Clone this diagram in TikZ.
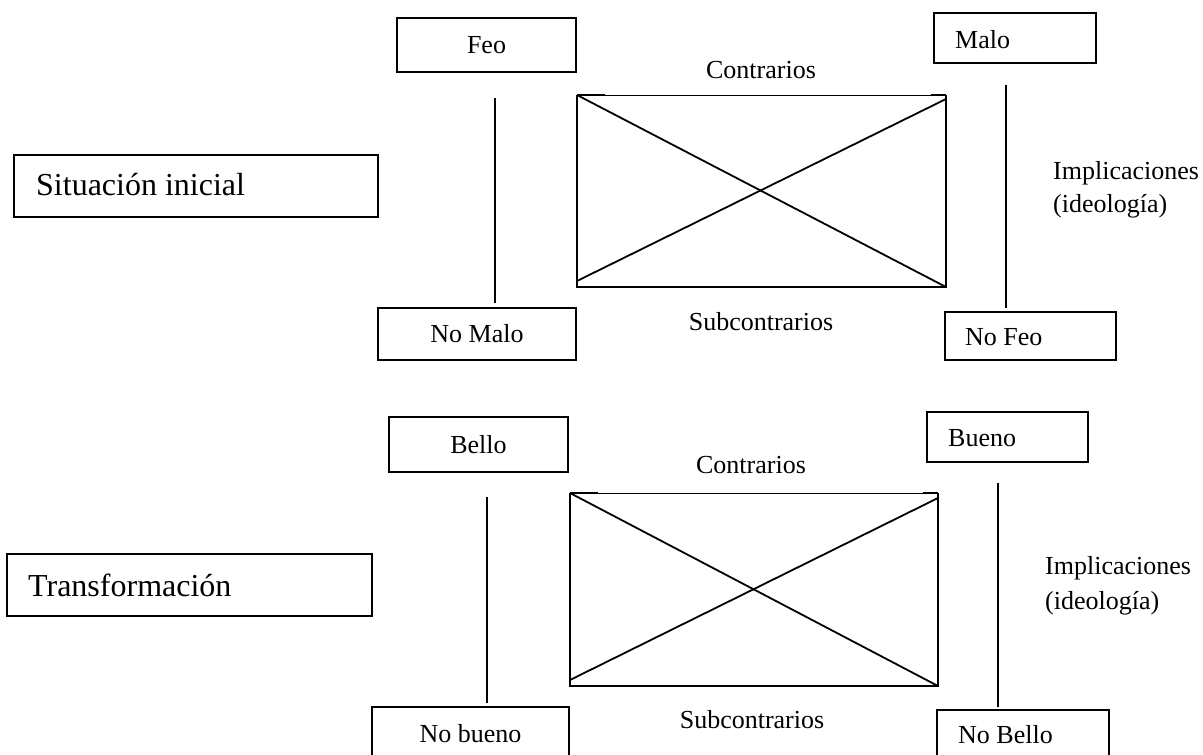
\documentclass[tikz,border=0pt]{standalone}
\usepackage{fontspec}
\setmainfont{Liberation Serif}
\begin{document}
\begin{tikzpicture}[x=1pt,y=-1pt,
  box/.style={draw,line width=2pt,inner sep=0pt,font=\fontsize{26}{30}\selectfont},
  bigbox/.style={draw,line width=2pt,inner sep=0pt},
  lbl/.style={inner sep=0pt,font=\fontsize{26}{30}\selectfont},
  biglbl/.style={inner sep=0pt,font=\fontsize{32}{36}\selectfont},
  edge/.style={line width=2pt},
  diag/.style={line width=1.8pt},
  thin/.style={line width=1pt}]
\clip (0,0) rectangle (1203,755);
\fill[white] (0,0) rectangle (1203,755);

% ---------- top square ----------
\node[box,minimum width=179pt,minimum height=54pt] (feo) at (486.5,45) {Feo};
\node[box,minimum width=162pt,minimum height=50pt] (malo) at (1015,38) {};
\node[lbl,anchor=west] (malot) at (955,40) {Malo};
\node[bigbox,minimum width=364pt,minimum height=62pt] (sit) at (196,186) {};
\node[biglbl,anchor=west] (sitt) at (36,185) {Situación inicial};
\node[box,minimum width=198pt,minimum height=52pt] (nomalo) at (477,334) {No Malo};
\node[box,minimum width=171pt,minimum height=48pt] (nofeo) at (1030.5,336) {};
\node[lbl,anchor=west] (nofeot) at (965,337) {No Feo};

\node[lbl] (contr1) at (761,70) {Contrarios};
\node[lbl] (sub1) at (761,322) {Subcontrarios};
\node[lbl,anchor=west] (impl1) at (1053,173) {Implicaciones};
\node[lbl,anchor=west] (ideo1) at (1053,206) {(ideología)};

\coordinate (r1tl) at (577,95);
\coordinate (r1br) at (946,287);
\draw[edge] (577,95) -- (577,287) -- (946,287) -- (946,95);
\draw[thin] (577,95) -- (946,95);
\draw[edge] (577,95) -- (605,95);
\draw[edge] (931,95) -- (946,95);
\draw[diag] (r1tl) -- (r1br);
\draw[diag] (577,281) -- (946,99);

\coordinate (l1a) at (495,98);
\coordinate (l1b) at (495,303);
\draw[edge] (l1a) -- (l1b);
\coordinate (r1a) at (1006,85);
\coordinate (r1b) at (1006,308);
\draw[edge] (r1a) -- (r1b);

% ---------- bottom square ----------
\node[box,minimum width=179pt,minimum height=55pt] (bello) at (478.5,444.5) {Bello};
\node[box,minimum width=161pt,minimum height=50pt] (bueno) at (1007.5,437) {};
\node[lbl,anchor=west] (buenot) at (948,438) {Bueno};
\node[bigbox,minimum width=365pt,minimum height=62pt] (trans) at (189.5,585) {};
\node[biglbl,anchor=west] (transt) at (28,585) {Transformación};
\node[box,minimum width=197pt,minimum height=53pt] (nobueno) at (470.5,733.5) {No bueno};
\node[box,minimum width=172pt,minimum height=50pt] (nobello) at (1023,735) {};
\node[lbl,anchor=west] (nobellot) at (958,735) {No Bello};

\node[lbl] (contr2) at (751,465) {Contrarios};
\node[lbl] (sub2) at (752,720) {Subcontrarios};
\node[lbl,anchor=west] (impl2) at (1045,568) {Implicaciones};
\node[lbl,anchor=west] (ideo2) at (1045,603) {(ideología)};

\coordinate (r2tl) at (570,493);
\coordinate (r2br) at (938,686);
\draw[edge] (570,493) -- (570,686) -- (938,686) -- (938,493);
\draw[thin] (570,493) -- (938,493);
\draw[edge] (570,493) -- (598,493);
\draw[edge] (923,493) -- (938,493);
\draw[diag] (r2tl) -- (r2br);
\draw[diag] (570,680) -- (938,498);

\coordinate (l2a) at (487,497);
\coordinate (l2b) at (487,703);
\draw[edge] (l2a) -- (l2b);
\coordinate (r2a) at (998,483);
\coordinate (r2b) at (998,707);
\draw[edge] (r2a) -- (r2b);
\end{tikzpicture}
\end{document}
